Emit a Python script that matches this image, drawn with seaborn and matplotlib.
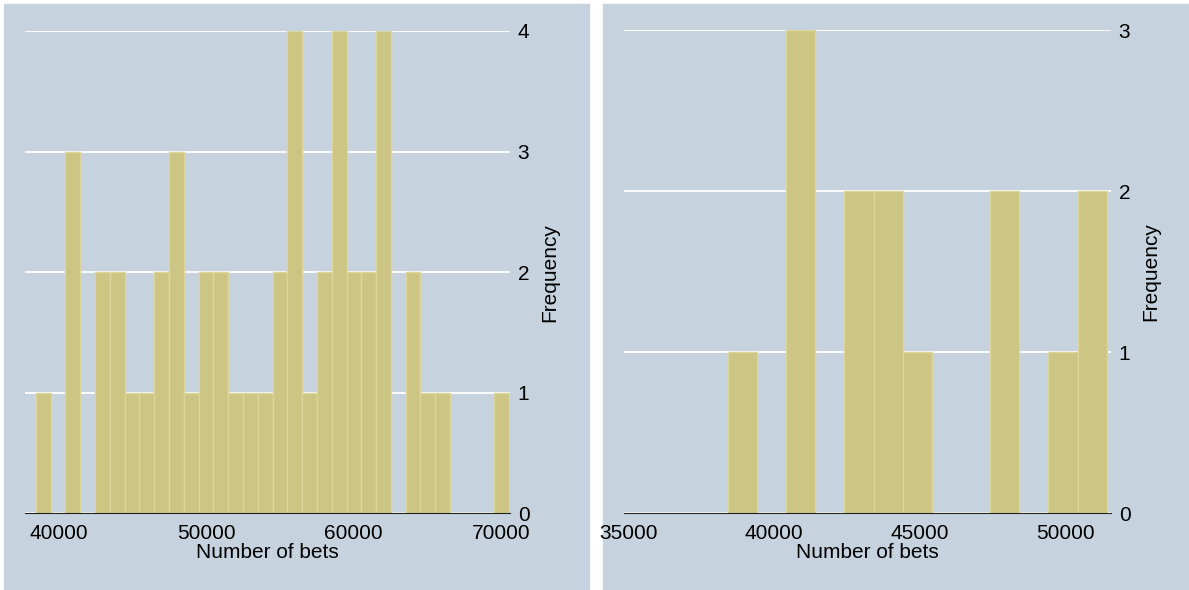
import numpy as np
import pandas as pd
import seaborn as sns
import matplotlib.pyplot as plt
from matplotlib.patches import Rectangle

# 左图：全部样本的直方图（每格约1000注）
left_start = 38430
left_width = 1004
left_counts = [1, 0, 3, 0, 2, 2, 1, 1, 2, 3, 1, 2, 2, 1, 1, 1,
               2, 4, 1, 2, 4, 2, 2, 4, 0, 2, 1, 1, 0, 0, 0, 1]
left_xticks = [40000, 50000, 60000, 70000]
left_yticks = [0, 1, 2, 3, 4]

# 右图：子样本
right_start = 38420
right_width = 1000
right_counts = [1, 0, 3, 0, 2, 2, 1, 0, 0, 2, 0, 1, 2]
right_xticks = [35000, 40000, 45000, 50000]
right_yticks = [0, 1, 2, 3]

bg = '#C6D3DF'
bar_color = '#CCC583'
bar_edge = '#DDD69C'

sns.set_style('white', rc={'axes.facecolor': bg, 'text.color': 'black',
                           'axes.labelcolor': 'black',
                           'xtick.color': 'black', 'ytick.color': 'black'})
plt.rcParams['font.family'] = ['Liberation Sans', 'DejaVu Sans']

fig = plt.figure(figsize=(11.89, 5.90), dpi=100, facecolor='white')
# 两块面板背景
fig.patches.append(Rectangle((4 / 1189, 0), 585 / 1189, 586 / 590,
                             transform=fig.transFigure, color=bg, zorder=-5))
fig.patches.append(Rectangle((603 / 1189, 0), 586 / 1189, 586 / 590,
                             transform=fig.transFigure, color=bg, zorder=-5))

ax1 = fig.add_axes([25 / 1189, 76.7 / 590, 485 / 1189, 482.3 / 590])
ax2 = fig.add_axes([624 / 1189, 76.7 / 590, 487 / 1189, 483.3 / 590])


def draw(ax, start, width, counts, xlim, xticks, yticks):
    edges = [start + width * i for i in range(len(counts) + 1)]
    df = pd.DataFrame({'bets': [e + width / 2 for e in edges[:-1]],
                       'n': counts})
    df = df[df['n'] > 0]
    sns.histplot(data=df, x='bets', weights='n', bins=edges, ax=ax,
                 color=bar_color, edgecolor=bar_edge, linewidth=1.0,
                 alpha=1)
    ax.set_xlim(*xlim)
    ax.set_ylim(0, max(yticks))
    ax.set_xticks(xticks)
    ax.set_yticks(yticks)
    ax.yaxis.tick_right()
    ax.yaxis.set_label_position('right')
    ax.yaxis.grid(True, color='white', linewidth=1.3)
    ax.xaxis.grid(False)
    ax.set_axisbelow(True)
    for s in ['top', 'left', 'right']:
        ax.spines[s].set_visible(False)
    ax.spines['bottom'].set_color('#222222')
    ax.spines['bottom'].set_linewidth(0.8)
    ax.tick_params(axis='x', direction='in', length=6, width=0.7,
                   color='#222222', labelcolor='black', pad=8, labelsize=15)
    ax.tick_params(axis='y', length=0, pad=5.5, labelcolor='black',
                   labelsize=15)
    ax.set_xlabel('Number of bets', fontsize=15, labelpad=0, color='black')
    ax.set_ylabel('Frequency', fontsize=15, labelpad=8, color='black')
    ax.patch.set_alpha(0)


draw(ax1, left_start, left_width, left_counts, (37692, 70611),
     left_xticks, left_yticks)
draw(ax2, right_start, right_width, right_counts, (34853, 51566),
     right_xticks, right_yticks)

fig.savefig('out.png', dpi=100, facecolor='white')
